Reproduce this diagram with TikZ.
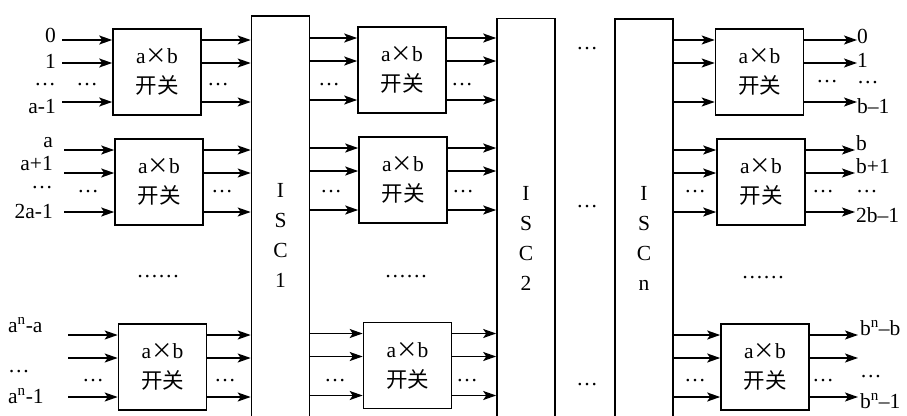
\documentclass[tikz,border=0pt]{standalone}
\usepackage{fontspec}
\setmainfont{Liberation Serif}
\newfontfamily\cjk{Noto Sans CJK SC}
\usetikzlibrary{arrows.meta,calc}
\begin{document}
\begin{tikzpicture}[x=1pt,y=-1pt,
  every node/.style={inner sep=0pt,font=\fontsize{21.5}{30}\selectfont},
  sw/.style={draw,line width=1.6pt,minimum width=88pt,minimum height=86pt,align=center},
  isc/.style={draw,line width=1.6pt,minimum width=58pt,minimum height=440pt,align=center,anchor=north},
  arr/.style={line width=1.6pt,-{Stealth[length=13pt,width=9pt,inset=3pt]}},
  lr/.style={anchor=base east},
  ll/.style={anchor=base west},
  dt/.style={anchor=base}]
\useasboundingbox (0,0) rectangle (907,415);
\clip (0,0) rectangle (907,415);
% ISC blocks
\node[isc] (isc1) at (280.5,15) {I\\S\\C\\1};
\node[isc] (isc2) at (526,17.5) {I\\S\\C\\2};
\node[isc] (iscn) at (644,18) {I\\S\\C\\n};
% switches
\newcommand{\swtext}{a{\cjk ×}b\\{\cjk 开关}}
\node[sw] (b11) at (157,72) {\swtext};
\node[sw] (b21) at (159,182) {\swtext};
\node[sw] (b31) at (162.5,367) {\swtext};
\node[sw] (b12) at (402,70) {\swtext};
\node[sw] (b22) at (403,180) {\swtext};
\node[sw] (b32) at (407.5,365.5) {\swtext};
\node[sw] (b13) at (759.5,72) {\swtext};
\node[sw] (b23) at (761,182) {\swtext};
\node[sw] (b33) at (765,367) {\swtext};
% free ends
\coordinate (i1) at (62,0);
\coordinate (i2) at (64,0);
\coordinate (i3) at (68,0);
\coordinate (o1) at (857,0);
\coordinate (o2) at (855,0);
\coordinate (o3) at (858,0);
% arrows
\foreach \b/\s/\d in {b11/i1/isc1.west, b21/i2/isc1.west, b31/i3/isc1.west,
    b12/isc1.east/isc2.west, b22/isc1.east/isc2.west, b32/isc1.east/isc2.west,
    b13/iscn.east/o1, b23/iscn.east/o2, b33/iscn.east/o3}{
  \foreach \o in {-32,-9,30}{
    \draw[arr] ($(\s |- \b.center)+(0,\o)$) -- ($(\b.west)+(0,\o)$);
    \draw[arr] ($(\b.east)+(0,\o)$) -- ($(\d |- \b.center)+(0,\o)$);
  }
}
% dots beside switches
\foreach \x/\y in {87/83, 88/190, 93/379, 218/83, 222/190, 225/379,
    329/83, 331/190, 335/379, 462/83, 463/190, 467/379,
    695/190, 695/379, 827/80, 823/190, 823/379,
    587/47, 587/205, 587/383}{
  \node[dt] (d\x) at (\x,\y+2) {…};
}
% vertical ellipses between groups
\node[dt] (m1) at (158,277) {……};
\node[dt] (m2) at (406,277) {……};
\node[dt] (m3) at (763,278) {……};
% left labels
\node[lr] (l1) at (56,42) {0};
\node[lr] (l2) at (56,68) {1};
\node[lr] (l3) at (56,85) {…};
\node[lr] (l4) at (56,113) {a-1};
\node[lr] (l5) at (53,147) {a};
\node[lr] (l6) at (53,170) {a+1};
\node[lr] (l7) at (53,188) {…};
\node[lr] (l8) at (53,218) {2a-1};
\node[ll] (l9) at (8,332) {a\textsuperscript{n}-a};
\node[ll] (l10) at (8,372) {…};
\node[ll] (l11) at (8,403) {a\textsuperscript{n}-1};
% right labels
\node[ll] (r1) at (857,43) {0};
\node[ll] (r2) at (857,67) {1};
\node[ll] (r3) at (857,83) {…};
\node[ll] (r4) at (857,113) {b–1};
\node[ll] (r5) at (856,150) {b};
\node[ll] (r6) at (856,173) {b+1};
\node[ll] (r7) at (856,192) {…};
\node[ll] (r8) at (856,222) {2b–1};
\node[ll] (r9) at (860,335) {b\textsuperscript{n}–b};
\node[ll] (r10) at (860,377) {…};
\node[ll] (r11) at (860,408) {b\textsuperscript{n}–1};
\end{tikzpicture}
\end{document}
